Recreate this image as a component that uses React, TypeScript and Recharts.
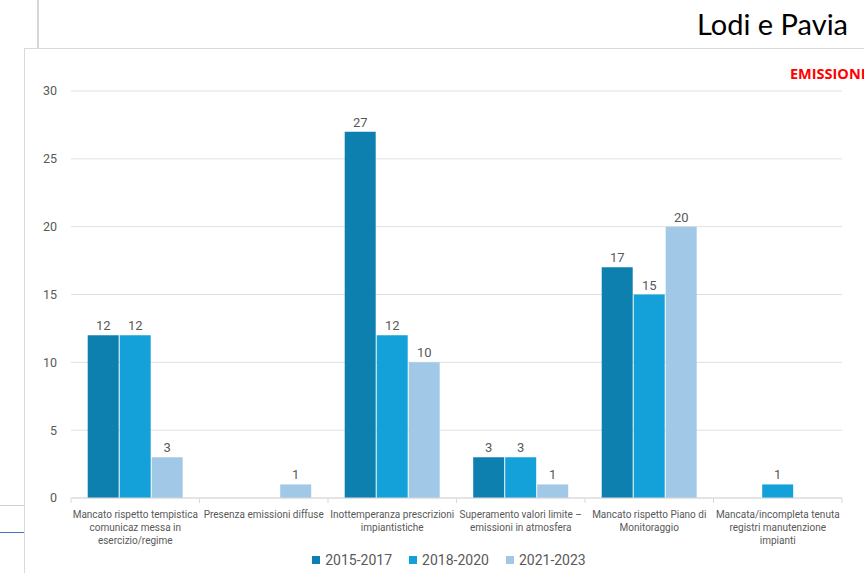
import React from "react";
import { BarChart, Bar, XAxis, YAxis, CartesianGrid, LabelList, Legend } from "recharts";

const categories = [
  "Mancato rispetto tempistica\ncomunicaz messa in\nesercizio/regime",
  "Presenza emissioni diffuse",
  "Inottemperanza prescrizioni\nimpiantistiche",
  "Superamento valori limite –\nemissioni in atmosfera",
  "Mancato rispetto Piano di\nMonitoraggio",
  "Mancata/incompleta tenuta\nregistri manutenzione\nimpianti",
];
const s2015 = [12, null, 27, 3, 17, null];
const s2018 = [12, null, 12, 3, 15, 1];
const s2021 = [3, 1, 10, 1, 20, null];
const seriesNames = ["2015-2017", "2018-2020", "2021-2023"];
const seriesColors = ["#0E80B0", "#14A0D8", "#A2C8E8"];
const yTicks = [0, 5, 10, 15, 20, 25, 30];

const data = categories.map((c, i) => ({
  cat: c,
  a: s2015[i],
  b: s2018[i],
  c: s2021[i],
}));

const W = 864;
const H = 573;
const XH = 30;
const M = { top: 91, right: 22, bottom: 75 - XH, left: 31 };
const YW = 40;
const BAND = (W - M.right - M.left - YW) / categories.length;
const FONT = "Roboto, 'Noto Sans', sans-serif";

function CatTick(props: any) {
  const { x, y, payload, index } = props;
  const lines = String(payload.value).split("\n");
  return (
    <g>
      <line x1={x - BAND / 2} x2={x - BAND / 2} y1={y} y2={y + 5} stroke="#d9d9d9" />
      {index === categories.length - 1 && (
        <line x1={x + BAND / 2} x2={x + BAND / 2} y1={y} y2={y + 5} stroke="#d9d9d9" />
      )}
      <text x={x} y={y + 19.5} textAnchor="middle" fill="#595959" fontSize={10} fontFamily={FONT}>
        {lines.map((l, i) => (
          <tspan key={i} x={x} dy={i === 0 ? 0 : 13.3}>
            {l}
          </tspan>
        ))}
      </text>
    </g>
  );
}

function LegendContent() {
  return (
    <div style={{ display: "flex", justifyContent: "center", alignItems: "center", fontFamily: FONT, fontSize: 14, color: "#595959" }}>
      {seriesNames.map((n, i) => (
        <div key={n} style={{ display: "flex", alignItems: "center", marginLeft: i === 0 ? 0 : 17 }}>
          <span style={{ display: "inline-block", width: 8, height: 8, background: seriesColors[i], marginRight: 5 }} />
          <span>{n}</span>
        </div>
      ))}
    </div>
  );
}

const labelFmt = (v: any) => (v === null || v === undefined ? "" : v);

export default function App() {
  return (
    <div style={{ position: "absolute", left: 0, top: 0, width: W, height: H, background: "#fff", overflow: "hidden" }}>
      <div style={{ position: "absolute", left: 37, top: 0, width: 2, height: 48, background: "#d6d6d6" }} />
      <div style={{ position: "absolute", left: 24, top: 48, width: W - 24, height: 1, background: "#d9d9d9" }} />
      <div style={{ position: "absolute", left: 24, top: 48, width: 1, height: H - 48, background: "#d9d9d9" }} />
      <div style={{ position: "absolute", left: 0, top: 505, width: 24, height: 1, background: "#d0d0d0" }} />
      <div style={{ position: "absolute", left: 0, top: 532, width: 24, height: 1, background: "#4472C4" }} />
      <div style={{ position: "absolute", right: 16, top: 6, fontFamily: "Lato, sans-serif", fontSize: 29, color: "#000", whiteSpace: "nowrap" }}>
        Lodi e Pavia
      </div>
      <div style={{ position: "absolute", left: 790, top: 64, fontFamily: "'Open Sans', sans-serif", fontWeight: 700, fontSize: 14.5, color: "#FF0000", whiteSpace: "nowrap" }}>
        EMISSIONI
      </div>
      <div style={{ position: "absolute", left: 0, top: 0 }}>
        <BarChart width={W} height={H} data={data} margin={M} barCategoryGap="13%" barGap={1}>
          <CartesianGrid vertical={false} stroke="#e0e0e0" />
          <XAxis
            dataKey="cat"
            interval={0}
            height={XH}
            tick={<CatTick />}
            tickLine={false}
            tickSize={0}
            tickMargin={0}
            axisLine={{ stroke: "#d9d9d9" }}
          />
          <YAxis
            width={YW}
            domain={[0, 30]}
            ticks={yTicks}
            axisLine={false}
            tickLine={false}
            tickMargin={8}
            tick={{ fill: "#595959", fontSize: 12.5, fontFamily: FONT }}
          />
          <Legend
            layout="horizontal"
            verticalAlign="middle"
            content={<LegendContent />}
            wrapperStyle={{ position: "absolute", top: 552, left: 0, width: 898 }}
          />
          {(["a", "b", "c"] as const).map((k, i) => (
            <Bar key={k} dataKey={k} name={seriesNames[i]} fill={seriesColors[i]} isAnimationActive={false}>
              <LabelList
                dataKey={k}
                position="top"
                offset={5}
                formatter={labelFmt}
                fill="#595959"
                fontSize={13}
                fontFamily={FONT}
              />
            </Bar>
          ))}
        </BarChart>
      </div>
    </div>
  );
}
